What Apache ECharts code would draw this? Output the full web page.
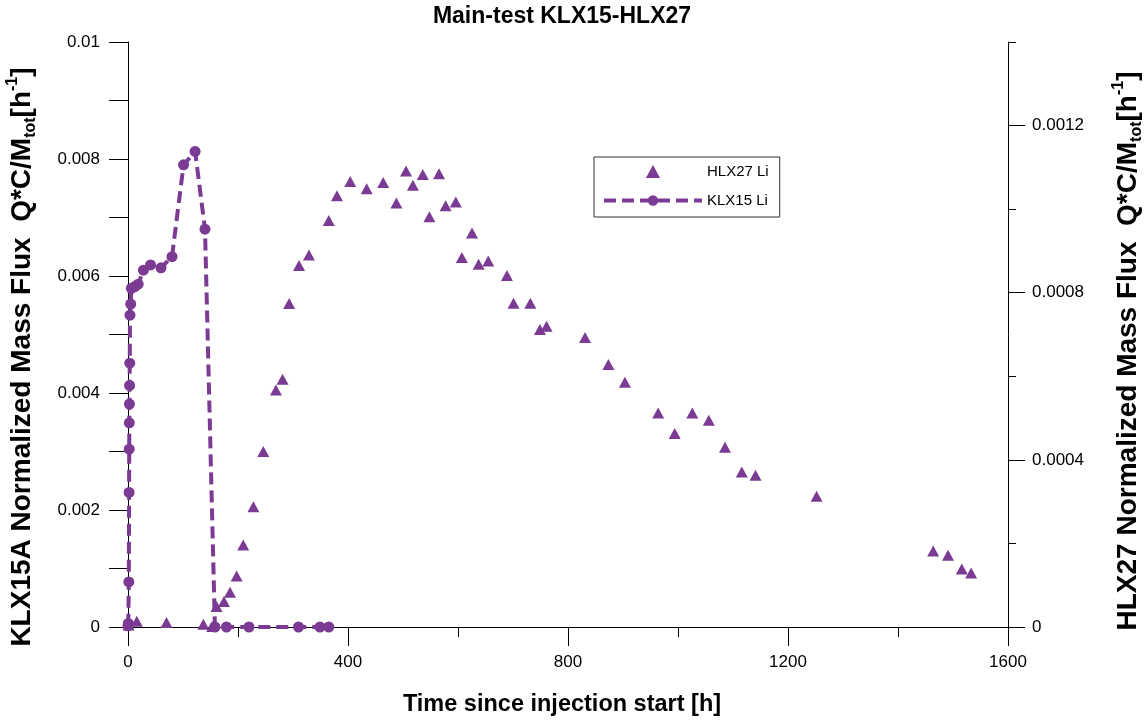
<!DOCTYPE html>
<html>
<head>
<meta charset="utf-8">
<title>Main-test KLX15-HLX27</title>
<script src="https://cdn.jsdelivr.net/npm/echarts@6/dist/echarts.min.js"></script>
<style>
  html, body { margin: 0; padding: 0; background: #fff; }
  #chart { width: 1147px; height: 722px; }
</style>
</head>
<body>
<div id="chart"></div>
<script>
// KLX15 Li breakthrough (left axis), time in hours
const timeKLX15 = [0, 0.5, 1.5, 2, 2.2, 2.4, 2.6, 2.9, 3.2, 3.6, 5, 6, 12.5, 18.5, 28, 41, 60, 80, 101, 122, 140, 158, 179, 220, 310, 349, 365];
const fluxKLX15 = [0.00002, 0.00006, 0.00077, 0.0023, 0.00304, 0.00349, 0.00381, 0.00413, 0.00451, 0.00533, 0.00552, 0.00579, 0.00582, 0.00586, 0.0061, 0.00619, 0.00614, 0.00633, 0.0079, 0.00813, 0.0068, 0, 0, 0, 0, 0, 0];

// HLX27 Li breakthrough (right axis), time in hours
const timeHLX27 = [1, 16, 70, 137, 153, 161, 174.5, 185.5, 197.5, 209.5, 228, 246, 269, 281, 293, 311, 329, 365, 380, 404, 434, 464, 488, 505.5, 518, 536, 548, 565.5, 577.5, 596, 607, 625.5, 637.5, 655, 689, 701, 731.5, 749, 761, 831, 873.5, 903.5, 964, 994, 1026, 1056, 1085.5, 1116, 1141, 1252, 1464, 1491, 1516, 1533];
const fluxHLX27 = [0.000005, 0.000014, 0.000011, 0.0000065, 0.000001, 0.000049, 0.000061, 0.000083, 0.000122, 0.000196, 0.000288, 0.00042, 0.000567, 0.000593, 0.000774, 0.000865, 0.00089, 0.000973, 0.001032, 0.001066, 0.001049, 0.001064, 0.001015, 0.001091, 0.001057, 0.001083, 0.000982, 0.001085, 0.001008, 0.001017, 0.000884, 0.000943, 0.000868, 0.000876, 0.000841, 0.000775, 0.000775, 0.000712, 0.00072, 0.000693, 0.000628, 0.000586, 0.000512, 0.000463, 0.000512, 0.000495, 0.00043, 0.000371, 0.000363, 0.000313, 0.000182, 0.000172, 0.000139, 0.000129];

// Tick values
const rightMajorTicks = [0, 0.0004, 0.0008, 0.0012];
const rightMinorTicks = [0.0002, 0.0006, 0.001, 0.0014];

const seriesNames = ['HLX27 Li', 'KLX15 Li'];
const titleText = 'Main-test KLX15-HLX27';
const xTitle = 'Time since injection start [h]';

const PURPLE = '#7b3a93';
const FONT = "'Liberation Sans', Arial, Helvetica, sans-serif";
// Upright triangle drawn as a path so the legend keeps its proportions
const TRIANGLE_ICON = 'path://M6,0 L12,11 L0,11 Z';

function pairs(xs, ys) { return xs.map((x, i) => [x, ys[i]]); }

// Axis title with subscript "tot" and superscript "-1"
function fluxLabel(prefix) {
  return '{b|' + prefix + ' Normalized Mass Flux  Q*C/M}{sub|tot}{b|[h}{sup|-1}{b|]}';
}
const labelRich = {
  b:   { fontSize: 28, fontWeight: 'bold', fontFamily: FONT, color: '#000', lineHeight: 34 },
  sub: { fontSize: 16, fontWeight: 'bold', fontFamily: FONT, color: '#000', verticalAlign: 'bottom' },
  sup: { fontSize: 16, fontWeight: 'bold', fontFamily: FONT, color: '#000', verticalAlign: 'top' }
};

const chart = echarts.init(document.getElementById('chart'), null, { renderer: 'canvas' });

const axisText = { fontSize: 17, color: '#000', fontFamily: FONT };
const blackLine = { color: '#000', width: 1 };
const plainNumber = v => String(v);

chart.setOption({
  animation: false,
  backgroundColor: '#fff',
  grid: { left: 128, right: 139, top: 42, bottom: 95, containLabel: false },
  legend: {
    data: [
      { name: seriesNames[0], icon: TRIANGLE_ICON },
      { name: seriesNames[1] }
    ],
    orient: 'vertical',
    left: 594,
    top: 157,
    padding: [7, 11, 9, 8],
    itemWidth: 98,
    itemHeight: 13,
    itemGap: 14,
    symbolKeepAspect: true,
    lineStyle: { width: 4 },
    borderColor: '#333',
    borderWidth: 1,
    backgroundColor: '#fff',
    textStyle: { fontSize: 15, color: '#000', fontFamily: FONT }
  },
  xAxis: {
    type: 'value',
    min: 0, max: 1600, interval: 400,
    axisLine: { show: true, onZero: false, lineStyle: blackLine },
    axisTick: { show: true, length: 19, lineStyle: blackLine },
    minorTick: { show: true, splitNumber: 2, length: 10, lineStyle: blackLine },
    splitLine: { show: false },
    minorSplitLine: { show: false },
    axisLabel: Object.assign({ margin: 27, formatter: plainNumber }, axisText)
  },
  yAxis: [
    {
      type: 'value', position: 'left',
      min: 0, max: 0.01, interval: 0.002,
      axisLine: { show: true, onZero: false, lineStyle: blackLine },
      axisTick: { show: true, length: 19, lineStyle: blackLine },
      minorTick: { show: true, splitNumber: 2, length: 19, lineStyle: blackLine },
      splitLine: { show: false },
      minorSplitLine: { show: false },
      axisLabel: Object.assign({ margin: 28 }, axisText)
    },
    {
      type: 'value', position: 'right',
      min: 0, max: 0.0014,
      axisLine: { show: true, onZero: false, lineStyle: blackLine },
      axisTick: { show: true, length: 17, lineStyle: blackLine, customValues: rightMajorTicks },
      splitLine: { show: false },
      axisLabel: Object.assign({ margin: 24, customValues: rightMajorTicks }, axisText)
    },
    {
      type: 'value', position: 'right',
      min: 0, max: 0.0014,
      axisLine: { show: false, onZero: false },
      axisTick: { show: true, length: 8, lineStyle: blackLine, customValues: rightMinorTicks },
      splitLine: { show: false },
      axisLabel: { show: false }
    }
  ],
  series: [
    {
      name: seriesNames[0],
      type: 'scatter',
      yAxisIndex: 1,
      symbol: 'triangle',
      symbolSize: [12, 11],
      itemStyle: { color: PURPLE, opacity: 1 },
      data: pairs(timeHLX27, fluxHLX27),
      z: 2
    },
    {
      name: seriesNames[1],
      type: 'line',
      yAxisIndex: 0,
      symbol: 'circle',
      symbolSize: 11,
      showAllSymbol: true,
      itemStyle: { color: PURPLE, opacity: 1 },
      lineStyle: { color: PURPLE, width: 4, type: [12, 6] },
      data: pairs(timeKLX15, fluxKLX15),
      z: 3
    }
  ],
  graphic: [
    {
      type: 'text', x: 562, y: 17,
      style: { text: titleText, fontSize: 23, fontWeight: 'bold', fontFamily: FONT, fill: '#000', textAlign: 'center', textVerticalAlign: 'middle' }
    },
    {
      type: 'text', x: 562, y: 705,
      style: { text: xTitle, fontSize: 23.5, fontWeight: 'bold', fontFamily: FONT, fill: '#000', textAlign: 'center', textVerticalAlign: 'middle' }
    },
    {
      type: 'text', x: 22, y: 357, rotation: Math.PI / 2,
      style: { text: fluxLabel('KLX15A'), rich: labelRich, textAlign: 'center', textVerticalAlign: 'middle' }
    },
    {
      type: 'text', x: 1128, y: 351, rotation: Math.PI / 2,
      style: { text: fluxLabel('HLX27'), rich: labelRich, textAlign: 'center', textVerticalAlign: 'middle' }
    }
  ]
});
</script>
</body>
</html>
